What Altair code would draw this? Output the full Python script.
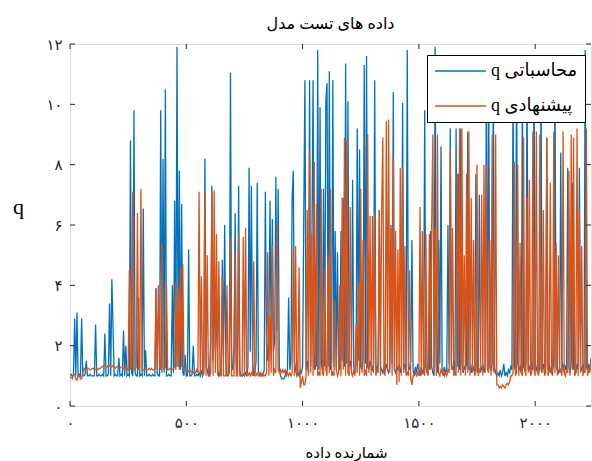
import altair as alt
import pandas as pd

# ---------------- data (one value every 5 samples) ----------------
blue_name = "q محاسباتی"
orange_name = "q پیشنهادی"

blue_rows = [
    [1.0, 1.05, 1.0, 1.0, 2.9, 1.0, 3.1, 1.0, 1.05, 1.0, 2.9, 1.0, 1.0, 1.05, 1.5, 1.0, 1.0, 1.05, 1.0, 1.0],
    [1.0, 1.0, 2.7, 1.0, 1.0, 1.05, 1.0, 1.0, 1.05, 1.0, 2.4, 1.0, 1.0, 1.05, 3.4, 1.0, 4.2, 2.6, 1.0, 1.05],
    [1.0, 1.0, 1.6, 1.0, 1.05, 1.0, 2.5, 1.0, 2.0, 1.0, 1.05, 1.0, 8.8, 1.1, 1.0, 9.8, 1.1, 1.0, 1.0, 3.6],
    [1.0, 1.05, 1.0, 6.55, 1.0, 1.85, 1.0, 1.0, 1.05, 1.0, 1.0, 1.05, 1.0, 1.0, 3.9, 1.1, 1.0, 1.0, 9.8, 1.1],
    [8.2, 1.1, 10.5, 1.0, 1.0, 1.05, 1.0, 1.0, 4.0, 1.1, 6.8, 1.2, 11.9, 1.3, 7.8, 1.2, 6.7, 1.1, 1.0, 1.7],
    [1.0, 1.0, 5.2, 1.0, 1.0, 1.05, 2.0, 1.0, 1.0, 1.05, 1.0, 1.1, 1.0, 1.2, 1.0, 1.1, 8.2, 1.3, 1.2, 1.0],
    [1.0, 2.2, 7.3, 1.5, 4.0, 1.8, 3.5, 1.2, 1.0, 1.1, 1.0, 4.85, 1.6, 6.0, 1.5, 1.0, 1.0, 1.2, 11.05, 1.3],
    [1.2, 2.0, 6.4, 1.4, 1.0, 7.3, 1.2, 1.0, 1.0, 1.05, 1.0, 1.1, 1.0, 1.3, 7.9, 1.8, 7.3, 1.5, 1.0, 1.1],
    [1.5, 7.4, 1.2, 1.0, 1.0, 1.05, 1.0, 1.2, 7.1, 2.0, 1.5, 2.5, 6.8, 2.0, 6.2, 1.8, 2.2, 7.6, 2.5, 7.2],
    [1.2, 1.0, 0.9, 0.9, 0.9, 1.0, 1.1, 1.2, 3.6, 1.2, 1.5, 6.85, 7.8, 1.5, 1.2, 1.0, 1.1, 1.0, 1.2, 1.1],
    [1.3, 6.2, 10.8, 1.2, 1.5, 1.1, 10.8, 1.3, 5.2, 10.8, 1.2, 1.6, 1.3, 11.8, 1.2, 9.9, 1.4, 1.2, 7.2, 1.3],
    [10.1, 10.7, 1.3, 11.1, 1.2, 1.5, 10.8, 1.3, 5.8, 1.2, 5.1, 1.4, 1.2, 5.8, 1.5, 6.9, 1.3, 11.35, 1.4, 10.1],
    [1.3, 1.5, 1.2, 7.5, 1.3, 1.1, 1.4, 9.2, 1.5, 8.5, 1.3, 1.2, 1.6, 11.3, 1.4, 11.6, 1.3, 1.2, 1.5, 1.3],
    [1.2, 1.4, 10.8, 1.3, 1.2, 1.5, 6.5, 1.3, 1.2, 1.1, 1.3, 1.2, 1.4, 1.2, 1.1, 1.3, 6.0, 1.4, 10.4, 1.2],
    [1.1, 1.3, 1.2, 1.4, 1.1, 1.3, 10.05, 1.2, 1.4, 1.1, 11.8, 1.3, 1.2, 1.5, 5.5, 1.2, 1.0, 1.3, 1.1, 1.4],
    [1.2, 1.0, 1.3, 1.1, 1.2, 9.8, 1.3, 1.1, 1.4, 1.2, 5.8, 1.3, 1.1, 1.0, 11.9, 1.3, 1.1, 5.5, 1.4, 8.6],
    [1.2, 1.0, 1.3, 1.1, 1.2, 6.0, 1.4, 9.2, 1.3, 1.2, 1.5, 1.1, 9.2, 1.3, 7.7, 1.2, 9.2, 1.4, 1.1, 1.3],
    [1.2, 1.4, 9.1, 1.2, 1.3, 1.1, 1.4, 1.2, 1.3, 7.7, 1.2, 1.1, 7.0, 1.3, 1.2, 1.4, 1.1, 1.3, 10.5, 1.2],
    [11.2, 1.3, 1.2, 1.4, 10.9, 1.3, 1.1, 1.0, 1.1, 1.0, 1.2, 1.0, 1.1, 1.4, 1.0, 1.1, 1.0, 1.2, 1.1, 1.3],
    [1.2, 11.0, 1.3, 1.2, 11.5, 1.4, 1.2, 1.3, 1.1, 10.5, 1.3, 1.2, 1.4, 11.0, 1.2, 1.3, 1.1, 1.4, 1.2, 11.6],
    [1.3, 1.2, 1.4, 1.1, 1.3, 11.0, 1.2, 1.4, 1.1, 1.3, 8.9, 1.2, 1.4, 1.1, 1.3, 1.2, 1.4, 11.2, 1.3, 1.2],
    [1.1, 1.3, 8.4, 1.2, 1.4, 1.1, 1.3, 1.2, 7.9, 1.3, 1.1, 1.4, 7.4, 1.2, 1.3, 1.1, 1.4, 1.2, 7.9, 1.3],
    [1.2, 1.4, 1.1, 11.8, 1.3, 1.2, 1.4, 1.2, 1.2],
]

orange_rows = [
    [1.0, 0.95, 0.9, 1.05, 1.05, 0.9, 0.85, 1.0, 1.0, 0.9, 0.9, 1.1, 1.25, 1.2, 1.2, 1.25, 1.25, 1.2, 1.2, 1.25],
    [1.25, 1.2, 1.2, 1.25, 1.2, 1.25, 1.25, 1.3, 1.3, 1.35, 1.35, 1.3, 1.3, 1.35, 1.35, 1.3, 1.3, 1.35, 1.3, 1.25],
    [1.3, 1.3, 1.3, 1.25, 1.3, 1.3, 1.25, 1.2, 1.3, 1.25, 1.2, 4.5, 1.2, 1.3, 7.1, 1.2, 1.2, 1.3, 6.4, 1.2],
    [1.3, 7.2, 1.2, 1.2, 1.2, 1.25, 1.2, 1.2, 1.25, 1.2, 1.25, 1.2, 1.2, 1.25, 3.9, 1.2, 4.0, 1.3, 1.2, 5.4],
    [1.3, 1.2, 1.3, 4.0, 1.2, 1.2, 1.25, 1.2, 1.2, 1.25, 1.3, 4.1, 1.3, 3.9, 1.2, 4.6, 1.3, 4.7, 1.2, 1.2],
    [1.2, 1.2, 1.15, 1.2, 1.15, 1.1, 1.1, 1.15, 1.1, 1.2, 1.1, 7.1, 1.1, 4.3, 1.0, 1.1, 7.1, 1.0, 5.0, 1.1],
    [1.0, 1.1, 7.1, 1.0, 7.15, 1.1, 5.7, 1.0, 4.8, 1.0, 1.0, 4.3, 1.0, 1.0, 1.0, 4.0, 1.0, 1.1, 5.6, 1.0],
    [1.0, 1.0, 5.1, 1.0, 1.0, 5.7, 1.0, 1.0, 1.0, 5.6, 1.0, 5.9, 1.0, 1.0, 1.1, 1.0, 1.1, 1.0, 4.8, 1.0],
    [1.0, 1.1, 1.0, 1.0, 1.1, 1.0, 1.1, 1.0, 1.0, 1.1, 5.1, 1.0, 3.0, 1.1, 5.3, 1.0, 1.2, 1.1, 6.0, 1.2],
    [1.1, 1.2, 1.1, 1.2, 1.1, 1.2, 1.0, 1.1, 1.0, 1.1, 1.0, 1.1, 5.2, 1.0, 5.3, 1.0, 1.1, 4.6, 0.6, 0.8],
    [1.0, 0.7, 0.7, 1.0, 6.5, 1.0, 8.5, 1.1, 5.7, 1.0, 8.1, 1.2, 6.7, 1.0, 1.1, 1.0, 7.2, 1.1, 1.0, 4.5],
    [1.2, 1.0, 5.0, 1.1, 7.2, 1.0, 1.1, 1.0, 3.5, 1.2, 1.0, 1.1, 4.0, 1.0, 6.9, 1.2, 8.9, 1.0, 8.8, 1.1],
    [1.0, 6.6, 1.1, 1.0, 1.2, 1.0, 2.7, 1.1, 4.1, 1.0, 7.2, 1.1, 5.5, 1.0, 1.2, 1.0, 9.0, 1.1, 6.3, 1.0],
    [6.3, 1.1, 6.4, 1.0, 1.2, 1.1, 6.5, 1.0, 6.5, 8.9, 1.1, 1.0, 9.45, 1.2, 9.5, 1.1, 5.9, 1.0, 8.3, 1.2],
    [5.8, 0.7, 5.2, 0.8, 7.9, 1.0, 7.9, 1.1, 5.3, 1.0, 1.1, 1.0, 4.5, 0.9, 0.7, 1.0, 1.0, 1.1, 1.0, 1.1],
    [1.0, 6.6, 1.0, 5.8, 1.1, 1.0, 5.7, 1.1, 1.0, 5.7, 1.2, 6.0, 9.0, 1.1, 5.9, 1.0, 9.0, 1.1, 1.0, 1.2],
    [1.1, 1.2, 1.0, 1.1, 1.0, 1.2, 1.1, 8.5, 1.2, 5.9, 1.0, 1.1, 1.0, 7.7, 1.1, 9.2, 1.0, 9.2, 1.1, 5.0],
    [1.0, 7.7, 1.1, 9.1, 1.0, 6.9, 1.1, 5.5, 1.0, 1.1, 8.0, 1.0, 1.2, 1.1, 7.0, 1.0, 8.0, 1.1, 8.05, 1.2],
    [1.1, 5.5, 1.0, 9.0, 1.2, 1.1, 9.0, 0.7, 0.7, 0.6, 0.65, 0.6, 0.7, 0.65, 0.6, 0.7, 0.75, 0.7, 0.8, 1.0],
    [1.0, 1.1, 8.1, 1.0, 1.1, 8.0, 1.0, 5.4, 1.1, 1.0, 8.9, 1.2, 1.0, 6.9, 1.1, 7.5, 1.0, 1.1, 9.1, 1.2],
    [1.0, 9.1, 1.1, 1.0, 9.0, 1.2, 1.1, 6.5, 1.0, 1.1, 8.9, 1.0, 1.2, 7.4, 1.1, 1.0, 9.1, 1.1, 5.4, 1.0],
    [5.0, 1.1, 1.2, 1.0, 9.1, 1.1, 1.0, 1.2, 1.1, 7.8, 1.0, 9.0, 1.2, 8.9, 1.0, 1.1, 9.2, 1.0, 6.5, 1.1],
    [5.3, 1.0, 1.2, 1.1, 9.2, 1.0, 1.2, 1.1, 1.6],
]

sample_step = 5
x_ticks = [0, 500, 1000, 1500, 2000]
x_tick_labels = ["۰", "۵۰۰", "۱۰۰۰", "۱۵۰۰", "۲۰۰۰"]
y_ticks = [0, 2, 4, 6, 8, 10, 12]
y_tick_labels = ["۰", "۲", "۴", "۶", "۸", "۱۰", "۱۲"]

title_text = "داده های تست مدل"
x_title = "شمارنده داده"
y_title = "q"

# ---------------- build tables ----------------
blue = [v for row in blue_rows for v in row]
orange = [v for row in orange_rows for v in row]
idx = [k * sample_step for k in range(len(blue))]

df_blue = pd.DataFrame({"i": idx, "q": blue, "s": [blue_name] * len(blue)})
df_orange = pd.DataFrame({"i": idx[: len(orange)], "q": orange, "s": [orange_name] * len(orange)})
df_xt = pd.DataFrame({"t": x_ticks})
df_yt = pd.DataFrame({"t": y_ticks})


def label_expr(vals, labels):
    expr = "''"
    for v, l in reversed(list(zip(vals, labels))):
        expr = f"datum.value == {v} ? '{l}' : {expr}"
    return expr


W, H = 521, 362
BLUE, ORANGE, AX = "#0072BD", "#D95319", "#262626"
SERIF = "Liberation Serif, DejaVu Sans"

xs = alt.Scale(domain=[0, 2240], nice=False, zero=False)
ys = alt.Scale(domain=[0, 12], nice=False, zero=False)

x_axis = alt.Axis(
    values=x_ticks, labelExpr=label_expr(x_ticks, x_tick_labels), domain=False, ticks=False,
    grid=False, labelFontSize=15, labelFont=SERIF, labelColor=AX, labelPadding=9,
    labelFlush=False, labelOverlap=False, title=x_title, titleFontSize=15,
    titleFont=SERIF, titleFontWeight="normal", titleColor="black",
    titleX=276, titleY=46, titleAlign="center", titleBaseline="middle",
)
y_axis = alt.Axis(
    values=y_ticks, labelExpr=label_expr(y_ticks, y_tick_labels), domain=False, ticks=False,
    grid=False, labelFontSize=15, labelFont=SERIF, labelColor=AX, labelPadding=8,
    labelFlush=False, labelOverlap=False, title=y_title, titleFontSize=22,
    titleFont=SERIF, titleFontWeight="normal", titleColor="black", titleAngle=0,
    titleX=-52, titleY=162, titleAlign="center", titleBaseline="middle",
)

color = alt.Color(
    "s:N",
    scale=alt.Scale(domain=[blue_name, orange_name], range=[BLUE, ORANGE]),
    legend=alt.Legend(
        title=None, orient="none", legendX=357, legendY=11, direction="vertical",
        symbolType="stroke", symbolSize=2601, symbolStrokeWidth=1.3, clipHeight=18,
        rowPadding=17, padding=7, labelOffset=4, labelFontSize=18, labelFont=SERIF,
        labelColor="black", strokeColor="black", fillColor="white", labelLimit=300,
        symbolOffset=0,
    ),
)

line_style = dict(strokeWidth=1.3, clip=True)

blue_line = alt.Chart(df_blue).mark_line(**line_style).encode(
    x=alt.X("i:Q", scale=xs, axis=x_axis),
    y=alt.Y("q:Q", scale=ys, axis=y_axis),
    color=color,
)
orange_line = alt.Chart(df_orange).mark_line(**line_style).encode(
    x=alt.X("i:Q", scale=xs),
    y=alt.Y("q:Q", scale=ys),
    color=color,
)

tick_style = dict(color=AX, strokeWidth=1)
xt_bottom = alt.Chart(df_xt).mark_rule(**tick_style).encode(
    x=alt.X("t:Q", scale=xs), y=alt.value(H), y2=alt.value(H - 5))
xt_top = alt.Chart(df_xt).mark_rule(**tick_style).encode(
    x=alt.X("t:Q", scale=xs), y=alt.value(0), y2=alt.value(5))
yt_left = alt.Chart(df_yt).mark_rule(**tick_style).encode(
    y=alt.Y("t:Q", scale=ys), x=alt.value(0), x2=alt.value(5))
yt_right = alt.Chart(df_yt).mark_rule(**tick_style).encode(
    y=alt.Y("t:Q", scale=ys), x=alt.value(W), x2=alt.value(W - 5))

chart = alt.layer(blue_line, orange_line, xt_bottom, xt_top, yt_left, yt_right).properties(
    width=W,
    height=H,
    title=alt.TitleParams(title_text, fontSize=16, fontWeight="normal", font=SERIF,
                          anchor="middle", offset=5, color="black"),
    autosize=alt.AutoSizeParams(type="none"),
    padding={"left": 70, "top": 44, "right": 1, "bottom": 55},
).configure_view(stroke=AX, strokeWidth=1).configure(background="white")

chart.save("out.html", embed_options={"renderer": "svg", "actions": False})
